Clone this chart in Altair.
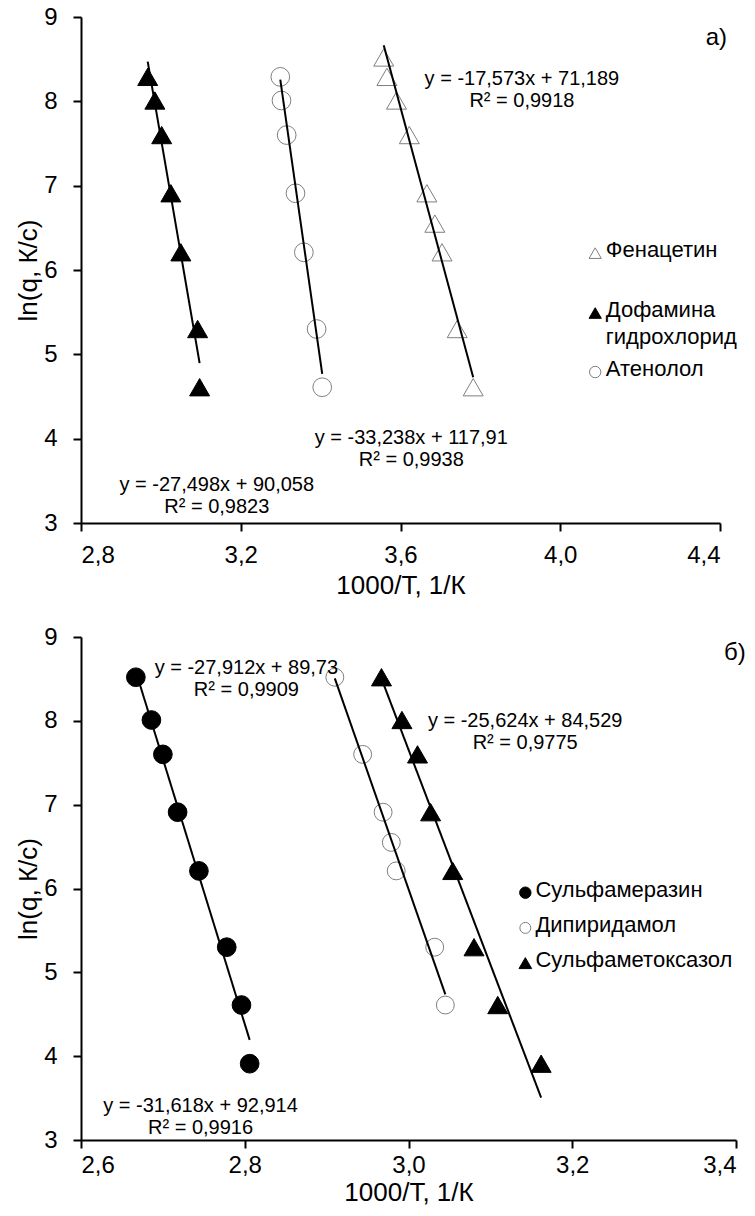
import altair as alt
import pandas as pd

FONT = "Liberation Sans"
GRAY = "#7f7f7f"

# ---------------- panel а) ----------------
a_names = ["Фенацетин", "Дофамина гидрохлорид", "Атенолол"]
a_x = [
    [3.558, 3.566, 3.590, 3.622, 3.666, 3.686, 3.704, 3.742, 3.782],
    [2.967, 2.985, 3.002, 3.025, 3.050, 3.092, 3.097],
    [3.299, 3.302, 3.315, 3.337, 3.358, 3.390, 3.404],
]
a_y = [
    [8.52, 8.29, 8.01, 7.60, 6.91, 6.55, 6.21, 5.30, 4.61],
    [8.29, 8.01, 7.60, 6.91, 6.21, 5.30, 4.61],
    [8.29, 8.01, 7.60, 6.91, 6.21, 5.30, 4.61],
]
a_slope = [-17.573, -27.498, -33.238]
a_icpt = [71.189, 90.058, 117.91]
a_r2 = [0.9918, 0.9823, 0.9938]
a_xticks = [2.8, 3.2, 3.6, 4.0, 4.4]
a_legend = ["Фенацетин", "Дофамина\nгидрохлорид", "Атенолол"]

# ---------------- panel б) ----------------
b_names = ["Сульфамеразин", "Дипиридамол", "Сульфаметоксазол"]
b_x = [
    [2.667, 2.686, 2.700, 2.718, 2.744, 2.778, 2.796, 2.806],
    [2.910, 2.944, 2.969, 2.979, 2.985, 3.032, 3.045],
    [2.967, 2.992, 3.011, 3.027, 3.054, 3.080, 3.109, 3.162],
]
b_y = [
    [8.52, 8.01, 7.60, 6.91, 6.21, 5.30, 4.61, 3.91],
    [8.52, 7.60, 6.91, 6.55, 6.21, 5.30, 4.61],
    [8.52, 8.01, 7.60, 6.91, 6.21, 5.30, 4.61, 3.91],
]
b_slope = [-31.618, -27.912, -25.624]
b_icpt = [92.914, 89.73, 84.529]
b_r2 = [0.9916, 0.9909, 0.9775]
b_xticks = [2.6, 2.8, 3.0, 3.2, 3.4]
b_legend = ["Сульфамеразин", "Дипиридамол", "Сульфаметоксазол"]

y_ticks = [3, 4, 5, 6, 7, 8, 9]

# ---------------- layout (positions / styles) ----------------
a_style = dict(shape=["triangle-up", "triangle-up", "circle"],
               fill=["white", "black", "white"],
               stroke=[GRAY, "black", GRAY],
               size=[400, 400, 350],
               lsize=[150, 150, 130])
b_style = dict(shape=["circle", "circle", "triangle-up"],
               fill=["black", "white", "black"],
               stroke=["black", GRAY, "black"],
               size=[350, 320, 400],
               lsize=[130, 120, 160])

a_ann_pos = [(3.904, 8.26), (3.14, 3.45), (3.627, 4.01)]
b_ann_pos = [(2.746, 3.40), (2.802, 8.63), (3.1425, 8.00)]
a_leg_sym_x, a_leg_txt_x, a_leg_y = 4.0875, 4.114, [6.20, 5.49, 4.79]
b_leg_sym_x, b_leg_txt_x, b_leg_y = 3.1427, 3.155, [5.95, 5.53, 5.11]
a_tag = ("а)", 4.4175, 8.75)
b_tag = ("б)", 3.412, 8.81)


def comma(v):
    return str(v).replace(".", ",")


def panel(names, xs, ys, slope, icpt, r2, xticks, legend, style,
          ann_pos, leg_sym_x, leg_txt_x, leg_y, tag, w, h, lab_pad, tit_pad):
    xdom = [xticks[0], xticks[-1]]
    pts = pd.DataFrame([
        {"x": x, "y": y, "s": n}
        for n, xl, yl in zip(names, xs, ys) for x, y in zip(xl, yl)
    ])
    lines = pd.DataFrame([
        {"x": x, "y": m * x + b, "s": n}
        for n, xl, m, b in zip(names, xs, slope, icpt)
        for x in (min(xl), max(xl))
    ])
    ann = pd.DataFrame([
        {"x": p[0], "y": p[1],
         "t": f"y = {comma(m)}x + {comma(b)}\nR² = {comma(r)}"}
        for p, m, b, r in zip(ann_pos, slope, icpt, r2)
    ])
    leg = pd.DataFrame([
        {"xs": leg_sym_x, "xt": leg_txt_x, "y": yy, "s": n, "t": t}
        for n, t, yy in zip(names, legend, leg_y)
    ])
    tagdf = pd.DataFrame([{"x": tag[1], "y": tag[2], "t": tag[0]}])

    X = alt.X("x:Q", scale=alt.Scale(domain=xdom, nice=False, zero=False),
              axis=alt.Axis(values=xticks, title="1000/T, 1/К",
                            labelPadding=lab_pad, titlePadding=tit_pad,
                            labelExpr="replace(format(datum.value, '.1f'), '.', ',')"))
    Y = alt.Y("y:Q", scale=alt.Scale(domain=[3, 9], nice=False, zero=False),
              axis=alt.Axis(values=y_ticks, format="d", title="ln(q, К/с)"))

    layers = []
    for i, n in enumerate(names):
        layers.append(
            alt.Chart(pts).transform_filter(alt.datum.s == n).mark_point(
                shape=style["shape"][i], fill=style["fill"][i], stroke=style["stroke"][i],
                size=style["size"][i], filled=True, opacity=1, strokeWidth=1,
            ).encode(x=X, y=Y)
        )
    layers.append(
        alt.Chart(lines).mark_line(color="black", strokeWidth=2).encode(
            x="x:Q", y="y:Q", detail="s:N")
    )
    layers.append(
        alt.Chart(ann).mark_text(font=FONT, fontSize=20, lineBreak="\n", lineHeight=22,
                                 align="center", baseline="middle", color="black").encode(
            x="x:Q", y="y:Q", text="t:N")
    )
    for i, n in enumerate(names):
        layers.append(
            alt.Chart(leg).transform_filter(alt.datum.s == n).mark_point(
                shape=style["shape"][i], fill=style["fill"][i], stroke=style["stroke"][i],
                size=style["lsize"][i], filled=True, opacity=1, strokeWidth=1,
            ).encode(x="xs:Q", y="y:Q")
        )
    layers.append(
        alt.Chart(leg).mark_text(font=FONT, fontSize=22, lineBreak="\n", lineHeight=27,
                                 align="left", baseline="top", dy=-13, color="black").encode(
            x="xt:Q", y="y:Q", text="t:N")
    )
    layers.append(
        alt.Chart(tagdf).mark_text(font=FONT, fontSize=24, align="right",
                                   baseline="middle", color="black").encode(
            x="x:Q", y="y:Q", text="t:N")
    )
    return alt.layer(*layers).properties(width=w, height=h)


top = panel(a_names, a_x, a_y, a_slope, a_icpt, a_r2, a_xticks, a_legend, a_style,
            a_ann_pos, a_leg_sym_x, a_leg_txt_x, a_leg_y, a_tag, 639, 506, 12, 5)
bottom = panel(b_names, b_x, b_y, b_slope, b_icpt, b_r2, b_xticks, b_legend, b_style,
               b_ann_pos, b_leg_sym_x, b_leg_txt_x, b_leg_y, b_tag, 655, 503, 5, 2)

chart = alt.vconcat(top, bottom, spacing=27).properties(
    padding={"left": 15, "top": 5, "right": 5, "bottom": 0},
    background="white",
).configure_view(stroke=None).configure_axis(
    grid=False,
    domainColor="black", domainWidth=2,
    tickColor="black", tickWidth=2, tickSize=8,
    labelFont=FONT, labelFontSize=24, labelColor="black",
    titleFont=FONT, titleFontSize=26, titleColor="black", titleFontWeight="normal",
).configure_axisY(labelPadding=16, titlePadding=2)

chart.save("out.html", embed_options={"renderer": "svg", "actions": False})
